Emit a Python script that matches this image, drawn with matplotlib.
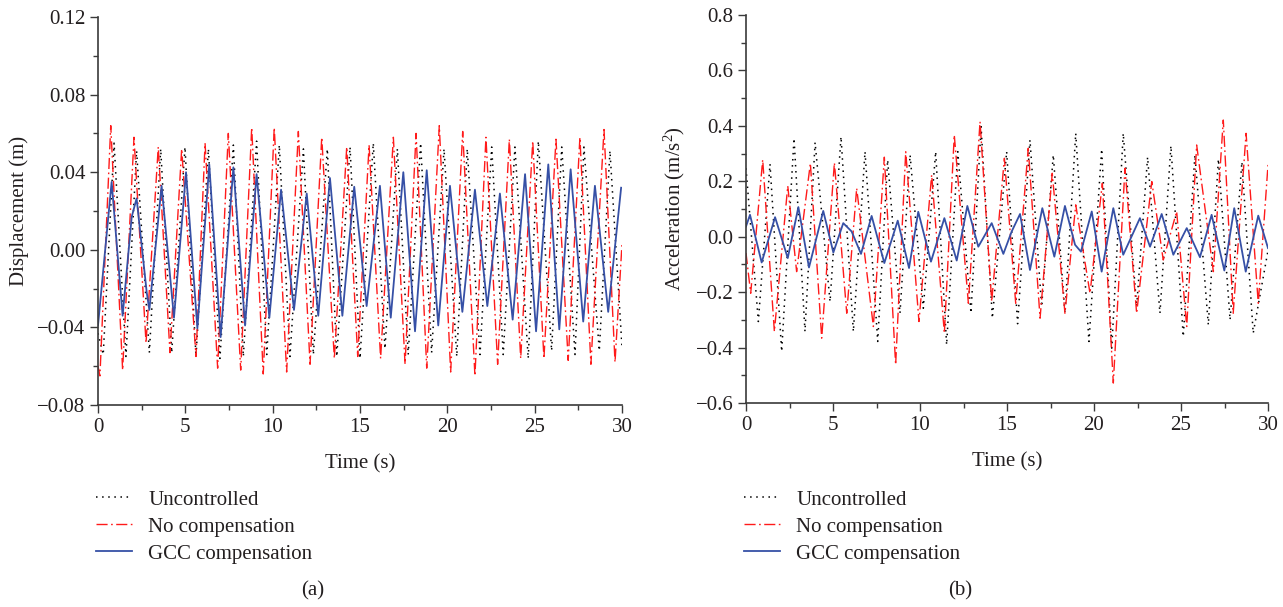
import matplotlib
matplotlib.use("Agg")
import matplotlib.pyplot as plt
from matplotlib.ticker import MultipleLocator, FuncFormatter

plt.rcParams['font.family'] = ['Liberation Serif', 'DejaVu Serif']
plt.rcParams['mathtext.fontset'] = 'custom'
plt.rcParams['mathtext.rm'] = 'Liberation Serif'
plt.rcParams['mathtext.it'] = 'Liberation Serif:italic'

# ---------------- data (extrema of each trace) -------------
series_labels = ["Uncontrolled", "No compensation", "GCC compensation"]
panel_labels = ["(a)", "(b)"]
xlabel = "Time (s)"
ylabel_a = "Displacement (m)"
ylabel_b = "Acceleration (m/s$^{2}$)"

# Panel (a): displacement
t_unc_a = [0.0, 0.30, 0.92, 1.60, 2.21, 2.94, 3.59, 4.22, 4.98, 5.61, 6.32, 6.98,
           7.75, 8.32, 9.08, 9.66, 10.38, 10.99, 11.76, 12.33, 13.13, 13.67, 14.43,
           15.00, 15.76, 16.43, 17.14, 17.76, 18.47, 19.10, 19.81, 20.54, 21.14,
           21.87, 22.54, 23.20, 23.87, 24.63, 25.21, 25.97, 26.55, 27.31, 27.82,
           28.70, 29.31, 30.0]
y_unc_a = [-0.043, -0.054, 0.055, -0.055, 0.051, -0.053, 0.052, -0.053, 0.053,
           -0.055, 0.052, -0.056, 0.054, -0.055, 0.056, -0.054, 0.054, -0.055,
           0.052, -0.054, 0.052, -0.055, 0.053, -0.056, 0.055, -0.051, 0.052,
           -0.054, 0.055, -0.053, 0.052, -0.055, 0.052, -0.054, 0.053, -0.054,
           0.053, -0.056, 0.056, -0.052, 0.053, -0.054, 0.053, -0.052, 0.051, -0.050]

t_noc_a = [0.0, 0.11, 0.73, 1.41, 2.06, 2.75, 3.45, 4.12, 4.79, 5.61, 6.13, 6.85,
           7.46, 8.17, 8.80, 9.46, 10.09, 10.80, 11.47, 12.14, 12.81, 13.53, 14.24,
           14.87, 15.52, 16.18, 16.91, 17.58, 18.21, 18.82, 19.54, 20.19, 20.88,
           21.58, 22.21, 22.88, 23.55, 24.20, 24.89, 25.53, 26.22, 26.92, 27.59,
           28.22, 28.97, 29.60, 30.0]
y_noc_a = [-0.060, -0.065, 0.064, -0.062, 0.058, -0.048, 0.053, -0.053, 0.052,
           -0.055, 0.055, -0.061, 0.060, -0.062, 0.063, -0.064, 0.063, -0.063,
           0.061, -0.059, 0.058, -0.056, 0.053, -0.055, 0.054, -0.056, 0.058,
           -0.059, 0.060, -0.061, 0.064, -0.063, 0.061, -0.065, 0.058, -0.059,
           0.057, -0.056, 0.056, -0.056, 0.057, -0.057, 0.058, -0.059, 0.062,
           -0.058, 0.003]

t_gcc_a = [0.0, 0.78, 1.41, 1.93, 2.21, 2.79, 2.94, 3.64, 4.35, 5.04, 5.69, 6.37,
           7.02, 7.75, 8.42, 9.08, 9.81, 10.48, 11.22, 11.95, 12.61, 13.28, 13.99,
           14.67, 15.38, 16.14, 16.76, 17.48, 18.15, 18.82, 19.48, 20.15, 20.86,
           21.58, 22.29, 23.01, 23.74, 24.45, 25.08, 25.78, 26.41, 27.06, 27.78,
           28.45, 29.21, 29.95]
y_gcc_a = [-0.039, 0.035, -0.034, 0.017, 0.0265, -0.022, -0.031, 0.033, -0.035,
           0.040, -0.0405, 0.044, -0.045, 0.0425, -0.039, 0.039, -0.035, 0.031,
           -0.031, 0.029, -0.034, 0.037, -0.034, 0.0325, -0.029, 0.033, -0.035,
           0.040, -0.042, 0.041, -0.039, 0.033, -0.032, 0.031, -0.029, 0.029,
           -0.036, 0.039, -0.042, 0.044, -0.041, 0.0415, -0.037, 0.033, -0.032, 0.032]

# Panel (b): acceleration
t_unc_b = [0.0, 0.71, 1.38, 2.05, 2.76, 3.39, 3.97, 4.83, 5.46, 6.17, 6.84, 7.57,
           8.14, 8.85, 9.43, 10.19, 10.90, 11.53, 12.17, 12.93, 13.51, 14.16, 14.98,
           15.61, 16.32, 16.99, 17.66, 18.33, 18.95, 19.71, 20.44, 21.02, 21.68,
           22.45, 23.08, 23.79, 24.42, 25.13, 25.80, 26.57, 27.15, 27.82, 28.50,
           29.15, 30.0]
y_unc_b = [0.247, -0.306, 0.262, -0.414, 0.355, -0.342, 0.340, -0.234, 0.361,
           -0.342, 0.307, -0.378, 0.277, -0.276, 0.295, -0.258, 0.307, -0.390,
           0.307, -0.276, 0.397, -0.294, 0.307, -0.314, 0.349, -0.252, 0.295,
           -0.276, 0.373, -0.378, 0.316, -0.402, 0.373, -0.252, 0.287, -0.276,
           0.328, -0.360, 0.295, -0.318, 0.280, -0.300, 0.270, -0.348, -0.050]

t_noc_b = [0.0, 0.27, 0.96, 1.63, 2.40, 2.91, 3.70, 4.35, 5.08, 5.79, 6.36, 7.32,
           7.95, 8.60, 9.18, 9.94, 10.67, 11.40, 11.97, 12.78, 13.45, 14.12, 14.85,
           15.50, 16.22, 16.90, 17.60, 18.33, 18.95, 19.77, 20.48, 21.11, 21.78,
           22.45, 23.32, 23.98, 24.75, 25.33, 25.90, 26.86, 27.43, 28.00, 28.74,
           29.44, 30.0]
y_noc_b = [-0.059, -0.204, 0.278, -0.342, 0.183, -0.126, 0.265, -0.366, 0.267,
           -0.276, 0.175, -0.324, 0.287, -0.462, 0.307, -0.306, 0.223, -0.348,
           0.367, -0.240, 0.415, -0.234, 0.283, -0.240, 0.319, -0.294, 0.229,
           -0.276, 0.115, -0.204, 0.193, -0.528, 0.247, -0.276, 0.199, -0.084,
           0.091, -0.324, 0.331, -0.126, 0.421, -0.276, 0.373, -0.240, 0.259]

t_gcc_b = [0.0, 0.23, 0.90, 1.67, 2.40, 3.01, 3.62, 4.44, 5.02, 5.59, 6.07, 6.61,
           7.22, 7.95, 8.72, 9.37, 9.90, 10.63, 11.40, 12.11, 12.72, 13.35, 14.12,
           14.79, 15.27, 15.75, 16.32, 17.03, 17.72, 18.33, 18.91, 19.25, 19.87,
           20.44, 21.11, 21.68, 22.64, 23.22, 23.89, 24.56, 25.33, 26.09, 26.76,
           27.49, 28.06, 28.72, 29.44, 30.0]
y_gcc_b = [0.037, 0.079, -0.093, 0.0705, -0.077, 0.107, -0.111, 0.093, -0.057,
           0.049, 0.019, -0.062, 0.075, -0.095, 0.058, -0.113, 0.090, -0.090,
           0.067, -0.086, 0.111, -0.036, 0.049, -0.062, 0.019, 0.082, -0.120,
           0.103, -0.072, 0.111, -0.029, -0.054, 0.091, -0.126, 0.103, -0.065,
           0.067, -0.036, 0.082, -0.065, 0.031, -0.074, 0.079, -0.122, 0.103,
           -0.126, 0.076, -0.041]

# ---------------- styling --------------------------------------------------------
TXT = '#231f20'
SPINE = '#3a3a3a'
C_UNC = '#000000'
C_NOC = '#ff1a1a'
C_GCC = '#3650a6'
FS = 15

fig = plt.figure(figsize=(12.83, 6.07), dpi=100)
W, H = 1283, 607
ax_a = fig.add_axes([98 / W, 1 - 405 / H, (622 - 98) / W, (405 - 17) / H])
ax_b = fig.add_axes([746 / W, 1 - 403 / H, (1268 - 746) / W, (403 - 15) / H])


def minus_fmt(fmt):
    return FuncFormatter(lambda v, p: (fmt % v).replace('-', '\u2212'))


def draw(ax, t_u, y_u, t_n, y_n, t_g, y_g, ylim, ymaj, fmt, ylabel, leg_x, plabel_x, plabel):
    ax.plot(t_u, y_u, color=C_UNC, lw=1.1, linestyle=(0, (1, 3)), label=series_labels[0])
    ax.plot(t_n, y_n, color=C_NOC, lw=1.0, linestyle=(0, (8, 2.5, 1.2, 2.5)),
            label=series_labels[1])
    ax.plot(t_g, y_g, color=C_GCC, lw=1.3, linestyle='-', label=series_labels[2],
            solid_joinstyle='round')
    ax.set_xlim(0, 30)
    ax.set_ylim(*ylim)
    ax.xaxis.set_major_locator(MultipleLocator(5))
    ax.xaxis.set_minor_locator(MultipleLocator(2.5))
    ax.yaxis.set_major_locator(MultipleLocator(ymaj))
    ax.yaxis.set_minor_locator(MultipleLocator(ymaj / 2))
    ax.xaxis.set_major_formatter(minus_fmt('%d'))
    ax.yaxis.set_major_formatter(minus_fmt(fmt))
    for s in ('top', 'right'):
        ax.spines[s].set_visible(False)
    for s in ('left', 'bottom'):
        ax.spines[s].set_color(SPINE)
        ax.spines[s].set_linewidth(1.2)
    ax.tick_params(which='major', direction='out', length=6, width=1.0, color=SPINE,
                   labelsize=FS, labelcolor=TXT, pad=3)
    ax.tick_params(which='minor', direction='out', length=3.5, width=1.0, color=SPINE)
    ax.set_xlabel(xlabel, fontsize=FS, color=TXT, labelpad=13)
    ax.set_ylabel(ylabel, fontsize=FS, color=TXT, labelpad=6)
    ax.legend(loc='upper left', bbox_to_anchor=(leg_x, 1 - 490 / H),
              bbox_transform=fig.transFigure, frameon=False, fontsize=FS,
              borderpad=0, borderaxespad=0, handlelength=1.75, handletextpad=0.75,
              labelspacing=0.36, labelcolor=TXT)
    fig.text(plabel_x, 1 - 591 / H, plabel, ha='center', va='center', fontsize=FS, color=TXT)


draw(ax_a, t_unc_a, y_unc_a, t_noc_a, y_noc_a, t_gcc_a, y_gcc_a,
     (-0.08, 0.12), 0.04, '%.2f', ylabel_a, 96 / W, 313 / W, panel_labels[0])
draw(ax_b, t_unc_b, y_unc_b, t_noc_b, y_noc_b, t_gcc_b, y_gcc_b,
     (-0.6, 0.8), 0.2, '%.1f', ylabel_b, 744 / W, 960 / W, panel_labels[1])

fig.savefig('out.png', dpi=100)
